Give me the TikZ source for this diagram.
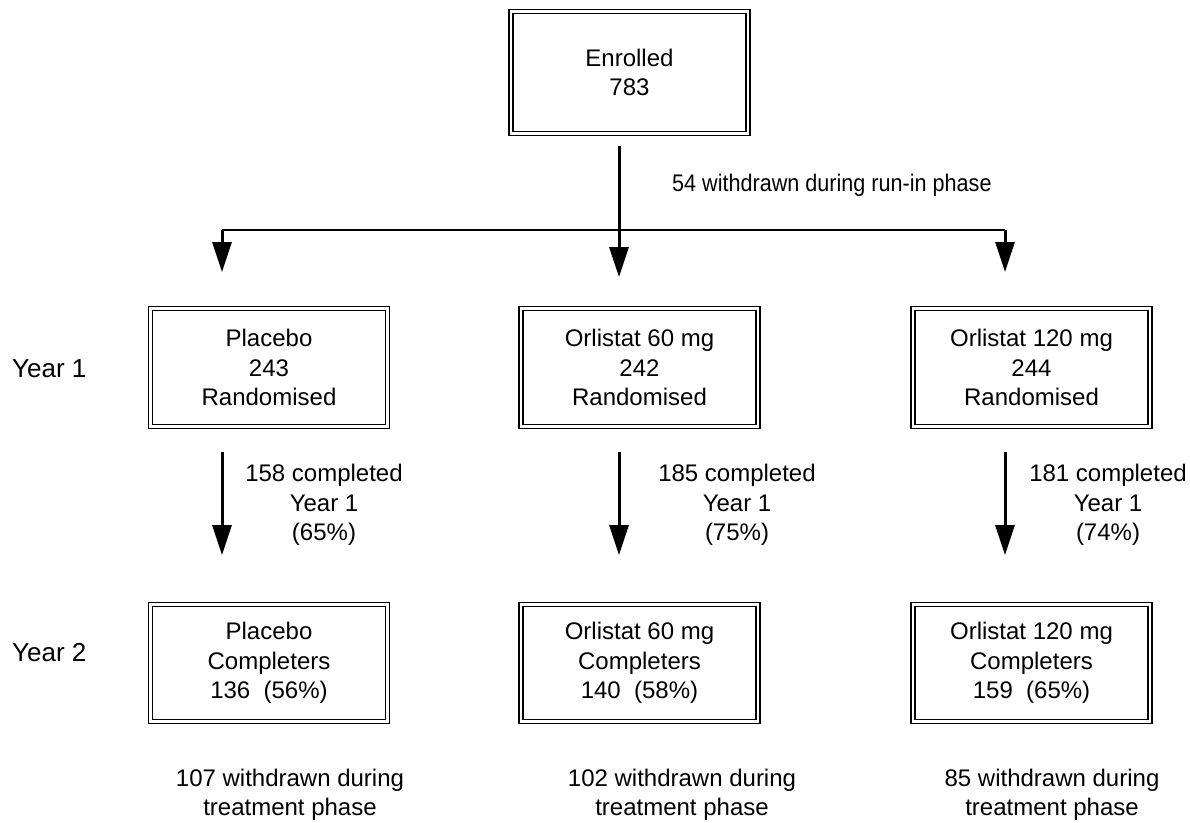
\documentclass[tikz,border=0pt]{standalone}
\usepackage{fontspec}
\setmainfont{Liberation Sans}
\usetikzlibrary{arrows.meta}
\begin{document}
\begin{tikzpicture}[x=1pt,y=-1pt,
  txt/.style={font=\fontsize{24}{29.5}\selectfont},
  dbox/.style={txt, draw, double, line width=1.4pt, double distance=2.6pt,
    minimum width=237pt, minimum height=117.5pt, align=center, inner sep=0pt},
  arr/.style={line width=3pt, -{Triangle[length=30pt,width=19pt]}},
  hline/.style={line width=2.6pt},
  lab/.style={txt, align=center, inner sep=0pt},
  yearlab/.style={font=\fontsize{26}{30}\selectfont, anchor=west, inner sep=0pt}]
\useasboundingbox (0,0) rectangle (1190,822);

% boxes
\node[dbox, minimum height=121.5pt] (enr) at (629.5,72.5) {Enrolled\\783};
\node[dbox] (p1) at (269,367.5) {Placebo\\243\\Randomised};
\node[dbox] (o60a) at (639.5,367.5) {Orlistat 60 mg\\242\\Randomised};
\node[dbox] (o120a) at (1031.5,367.5) {Orlistat 120 mg\\244\\Randomised};
\node[dbox] (p2) at (269,663) {Placebo\\Completers\\136~~(56\%)};
\node[dbox] (o60b) at (639.5,663) {Orlistat 60 mg\\Completers\\140~~(58\%)};
\node[dbox] (o120b) at (1031.5,663) {Orlistat 120 mg\\Completers\\159~~(65\%)};

% year labels
\node[yearlab] (y1) at (12,369) {Year 1};
\node[yearlab] (y2) at (12,653) {Year 2};

% split
\coordinate (bl) at (222,230);
\coordinate (bm) at (619,230);
\coordinate (br) at (1005,230);
\coordinate (ms) at (619,146);
\draw[hline] (bl) -- (br);
\draw[arr] (ms) -- (619,277);
\draw[arr] (bl) -- (222,272);
\draw[arr] (br) -- (1005,272);
\node[lab, anchor=west] (w0) at (672,185) {\scalebox{0.9}[1]{54 withdrawn during run-in phase}};

% year 1 -> year 2
\draw[arr, shorten <=25pt, shorten >=48.5pt] (p1.south -| bl) -- (p2.north -| bl);
\draw[arr, shorten <=25pt, shorten >=48.5pt] (o60a.south -| bm) -- (o60b.north -| bm);
\draw[arr, shorten <=25pt, shorten >=48.5pt] (o120a.south -| br) -- (o120b.north -| br);

\node[lab] (l1) at (324,505) {158 completed\\Year 1\\(65\%)};
\node[lab] (l2) at (737,505) {185 completed\\Year 1\\(75\%)};
\node[lab] (l3) at (1108,505) {181 completed\\Year 1\\(74\%)};

% bottom
\node[lab] (b1) at (290,795) {107 withdrawn during\\treatment phase};
\node[lab] (b2) at (682,795) {102 withdrawn during\\treatment phase};
\node[lab] (b3) at (1052,795) {85 withdrawn during\\treatment phase};
\end{tikzpicture}
\end{document}
